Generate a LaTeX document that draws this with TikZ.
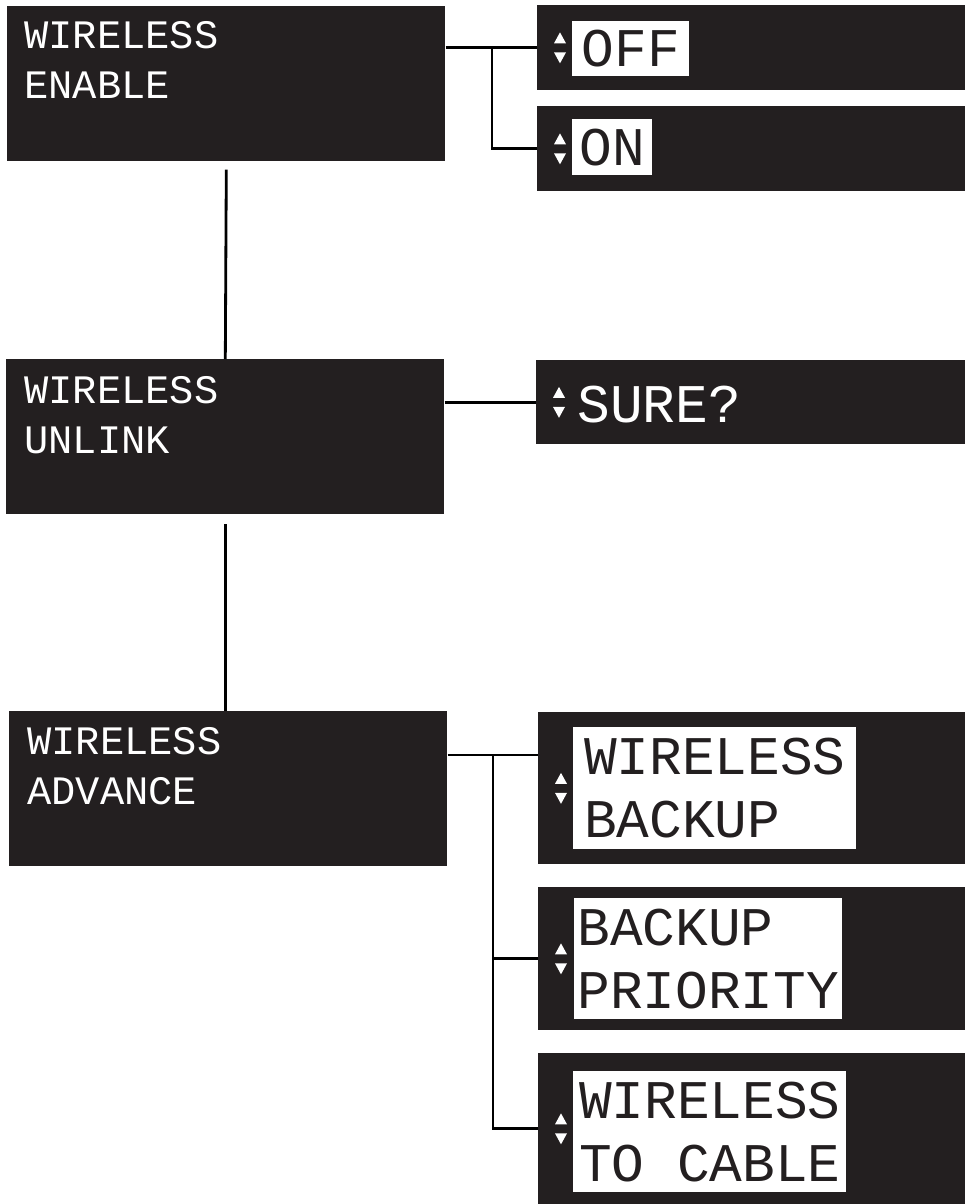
\documentclass[tikz,border=0pt]{standalone}
\usepackage{fontspec}
\newfontfamily\lcdfont{Liberation Mono}
\definecolor{lcdblack}{RGB}{35,31,32}
\usetikzlibrary{calc}

\begin{document}
\begin{tikzpicture}[x=0.02cm,y=-0.02cm,
  wlmenu/.style={fill=lcdblack,anchor=north west,inner sep=0pt,
    minimum width=8.76cm,minimum height=3.1cm},
  wloption/.style={fill=lcdblack,anchor=north west,inner sep=0pt,minimum height=1.7cm},
  wltext/.style={text=white,font=\lcdfont\fontsize{23}{28.4}\selectfont,
    align=left,inner sep=0pt,anchor=north west},
  wlsel/.style={fill=white,text=lcdblack,font=\lcdfont\fontsize{31}{36}\selectfont,
    align=left,inner sep=0pt,anchor=north west},
  wllink/.style={line width=1.6pt,black}
]
  \useasboundingbox (0,0) rectangle (965,1204);

  % Main menu screens
  \node[wlmenu] (m1) at (7,6) {};
  \node[wlmenu] (m2) at (6,359) {};
  \node[wlmenu] (m3) at (9,711) {};
  \node[wltext] (t1) at (24,21) {WIRELESS\\ENABLE};
  \node[wltext] (t2) at (24,376) {WIRELESS\\UNLINK};
  \node[wltext] (t3) at (27,727) {WIRELESS\\ADVANCE};

  % Option screens
  \node[wloption,minimum width=8.56cm] (off) at (537,5) {};
  \node[wloption,minimum width=8.56cm] (on) at (537,106) {};
  \node[wloption,minimum width=8.58cm,minimum height=1.68cm] (sure) at (536,360) {};
  \node[wloption,minimum width=8.54cm,minimum height=3.04cm] (wb) at (538,712) {};
  \node[wloption,minimum width=8.54cm,minimum height=2.86cm] (bp) at (538,887) {};
  \node[wloption,minimum width=8.54cm,minimum height=3.02cm] (wc) at (538,1053) {};

  % Selected values
  \node[wlsel,minimum width=2.34cm,minimum height=1.1cm] (offtxt) at (572,21) {OFF};
  \node[wlsel,minimum width=1.6cm,minimum height=1.12cm] (ontxt) at (572,119) {ON};
  \node[wlsel,font=\lcdfont\fontsize{31}{36}\selectfont,fill=none,text=white,anchor=base west]
    (suretxt) at (577,422) {SURE?};
  \node[wlsel,minimum width=5.66cm,minimum height=2.44cm] (wbtxt) at (573,727) {WIRELESS\\BACKUP};
  \node[wlsel,minimum width=5.36cm,minimum height=2.42cm] (bptxt) at (574,898) {BACKUP\\PRIORITY};
  \node[wlsel,minimum width=5.46cm,minimum height=2.42cm] (wctxt) at (573,1071) {WIRELESS\\TO CABLE};

  % Up/down marks
  \foreach \b in {off,on,sure,wb,bp,wc} {
    \fill[white] ($(\b.west)+(17,-4.5)$) -- ($(\b.west)+(29,-4.5)$) -- ($(\b.west)+(23,-15.5)$) -- cycle;
    \fill[white] ($(\b.west)+(17,4.5)$) -- ($(\b.west)+(29,4.5)$) -- ($(\b.west)+(23,15.5)$) -- cycle;
  }

  % Links between screens
  \coordinate (j1) at (492,47.5);
  \coordinate (j3) at (493,755);
  \draw[wllink] (m1.east |- off.west) -- (off.west);
  \draw[wllink] (j1) |- (on.west);
  \draw[wllink] (m2.east |- sure.west) -- (sure.west);
  \draw[wllink] (m3.east |- j3) -- (wb.west |- j3);
  \draw[wllink] (j3) |- (bp.west);
  \draw[wllink] (j3) |- (wc.west);
  \draw[wllink] ([yshift=-4.5pt]m1.south) -- (m2.north);
  \draw[wllink] ([yshift=-5.5pt]m2.south) -- (m2.south |- m3.north);
\end{tikzpicture}
\end{document}
